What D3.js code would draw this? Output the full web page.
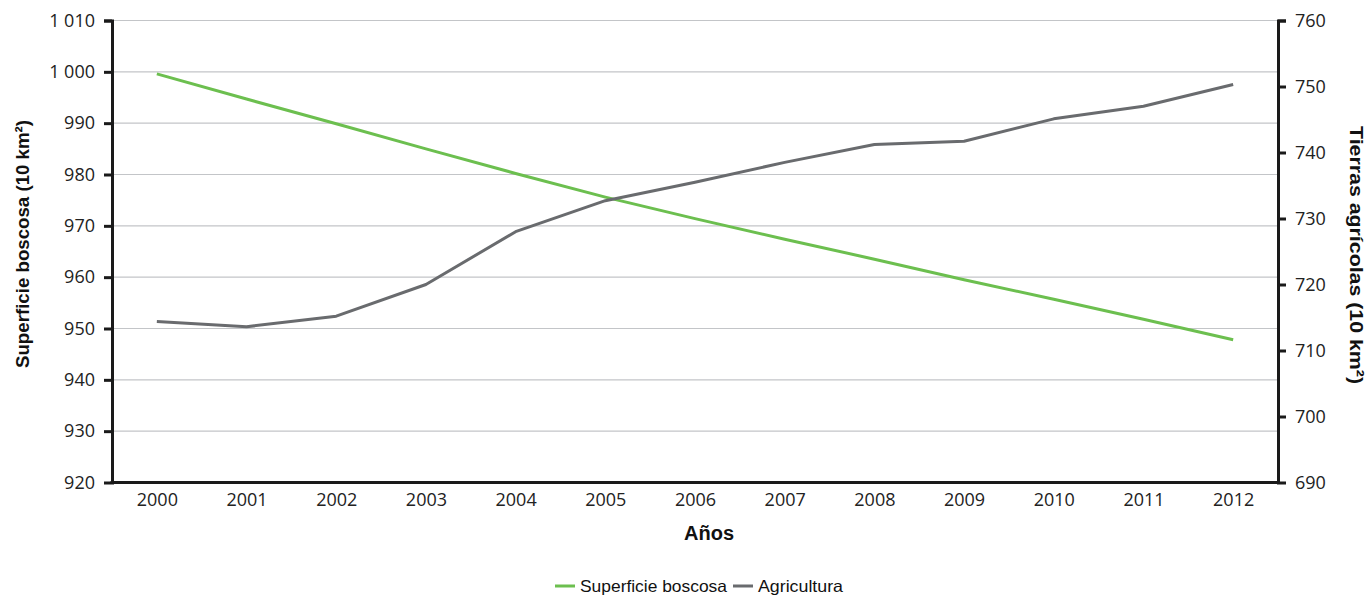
<!DOCTYPE html>
<html>
<head>
<meta charset="utf-8">
<script src="https://cdn.jsdelivr.net/npm/d3@7"></script>
<style>
  html, body { margin: 0; padding: 0; background: #fff; }
  svg { display: block; }
</style>
</head>
<body>
<svg id="chart" width="1371" height="596"></svg>
<script>
// Years on the horizontal axis
const years = ["2000","2001","2002","2003","2004","2005","2006","2007","2008","2009","2010","2011","2012"];
// Forest area (left axis, 10 km²)
const forestArea = [999.6, 994.7, 989.9, 985.0, 980.2, 975.6, 971.4, 967.4, 963.5, 959.5, 955.7, 951.8, 947.8];
// Agricultural land (right axis, 10 km²)
const farmland = [714.4, 713.6, 715.2, 720.0, 728.0, 732.7, 735.5, 738.5, 741.2, 741.7, 745.1, 747.0, 750.3];
// Axis ticks
const leftTicks = [920, 930, 940, 950, 960, 970, 980, 990, 1000, 1010];
const rightTicks = [690, 700, 710, 720, 730, 740, 750, 760];
const seriesNames = ["Superficie boscosa", "Agricultura"];

const svg = d3.select("#chart");
const plotLeft = 112, plotRight = 1278, plotTop = 20.5, plotBottom = 482.5;

const x = d3.scalePoint().domain(years).range([plotLeft, plotRight]).padding(0.5);
const yL = d3.scaleLinear().domain([920, 1010]).range([plotBottom, plotTop]);
const yR = d3.scaleLinear().domain([690, 760]).range([plotBottom, plotTop]);

const tickFont = "'Open Sans', sans-serif";
const titleFont = "'Liberation Sans', Arial, sans-serif";

// Horizontal gridlines
svg.append("g")
  .selectAll("line")
  .data(leftTicks.filter(d => d !== 920))
  .join("line")
  .attr("x1", plotLeft).attr("x2", plotRight)
  .attr("y1", d => yL(d)).attr("y2", d => yL(d))
  .attr("stroke", "#c3c5c8").attr("stroke-width", 1.2);

// Left axis
const gL = svg.append("g").attr("transform", `translate(${plotLeft},0)`)
  .call(d3.axisLeft(yL).tickValues(leftTicks).tickSize(8).tickPadding(9)
    .tickFormat(d => d3.format(",")(d).replace(",", " ")));
// Right axis
const gR = svg.append("g").attr("transform", `translate(${plotRight},0)`)
  .call(d3.axisRight(yR).tickValues(rightTicks).tickSize(8).tickPadding(9));

[gL, gR].forEach(g => {
  g.select(".domain").attr("stroke", "#1a1a1a").attr("stroke-width", 3);
  g.selectAll(".tick line").attr("stroke", "#1a1a1a").attr("stroke-width", 3);
  g.selectAll(".tick text").attr("font-family", tickFont).attr("font-size", 18).attr("fill", "#222");
});
gL.selectAll(".tick").filter(d => d === 920).select("line").remove();
gR.selectAll(".tick").filter(d => d === 690).select("line").remove();

// Bottom axis (labels only, no tick marks)
const gB = svg.append("g").attr("transform", `translate(0,${plotBottom})`)
  .call(d3.axisBottom(x).tickSize(0).tickPadding(11).tickSizeOuter(0));
gB.select(".domain").attr("stroke", "#1a1a1a").attr("stroke-width", 3)
  .attr("d", `M${plotLeft - 1.5},0H${plotRight + 1.5}`);
gB.selectAll(".tick text").attr("font-family", tickFont).attr("font-size", 18).attr("fill", "#222");

// Series lines
const lineL = d3.line().x((d, i) => x(years[i])).y(d => yL(d));
const lineR = d3.line().x((d, i) => x(years[i])).y(d => yR(d));
svg.append("path").datum(forestArea).attr("d", lineL)
  .attr("fill", "none").attr("stroke", "#6cbf4f").attr("stroke-width", 3).attr("stroke-linejoin", "round");
svg.append("path").datum(farmland).attr("d", lineR)
  .attr("fill", "none").attr("stroke", "#696b6e").attr("stroke-width", 3).attr("stroke-linejoin", "round");

// Axis titles
svg.append("text")
  .attr("transform", `translate(29,244) rotate(-90)`)
  .attr("text-anchor", "middle")
  .attr("font-family", titleFont).attr("font-weight", "bold").attr("font-size", 18.5).attr("fill", "#111")
  .attr("textLength", 248).attr("lengthAdjust", "spacingAndGlyphs")
  .text("Superficie boscosa (10 km²)");
svg.append("text")
  .attr("transform", `translate(1350,255) rotate(90)`)
  .attr("text-anchor", "middle")
  .attr("font-family", titleFont).attr("font-weight", "bold").attr("font-size", 19).attr("fill", "#111")
  .attr("textLength", 258).attr("lengthAdjust", "spacingAndGlyphs")
  .text("Tierras agrícolas (10 km²)");
svg.append("text")
  .attr("x", 709).attr("y", 540)
  .attr("text-anchor", "middle")
  .attr("font-family", titleFont).attr("font-weight", "bold").attr("font-size", 20).attr("fill", "#111")
  .text("Años");

// Legend
const legendColors = ["#6cbf4f", "#696b6e"];
const legendWidths = [147, 85];
const legend = svg.append("g").attr("transform", "translate(555,586)");
let offset = 0;
seriesNames.forEach((name, i) => {
  const g = legend.append("g").attr("transform", `translate(${offset},0)`);
  g.append("line").attr("x1", 0).attr("x2", 20).attr("y1", 0).attr("y2", 0)
    .attr("stroke", legendColors[i]).attr("stroke-width", 3);
  g.append("text").attr("x", 25).attr("y", 6)
    .attr("font-family", titleFont).attr("font-size", 16.5).attr("fill", "#111")
    .attr("textLength", legendWidths[i]).attr("lengthAdjust", "spacingAndGlyphs")
    .text(name);
  offset += 25 + legendWidths[i] + 6;
});
</script>
</body>
</html>
